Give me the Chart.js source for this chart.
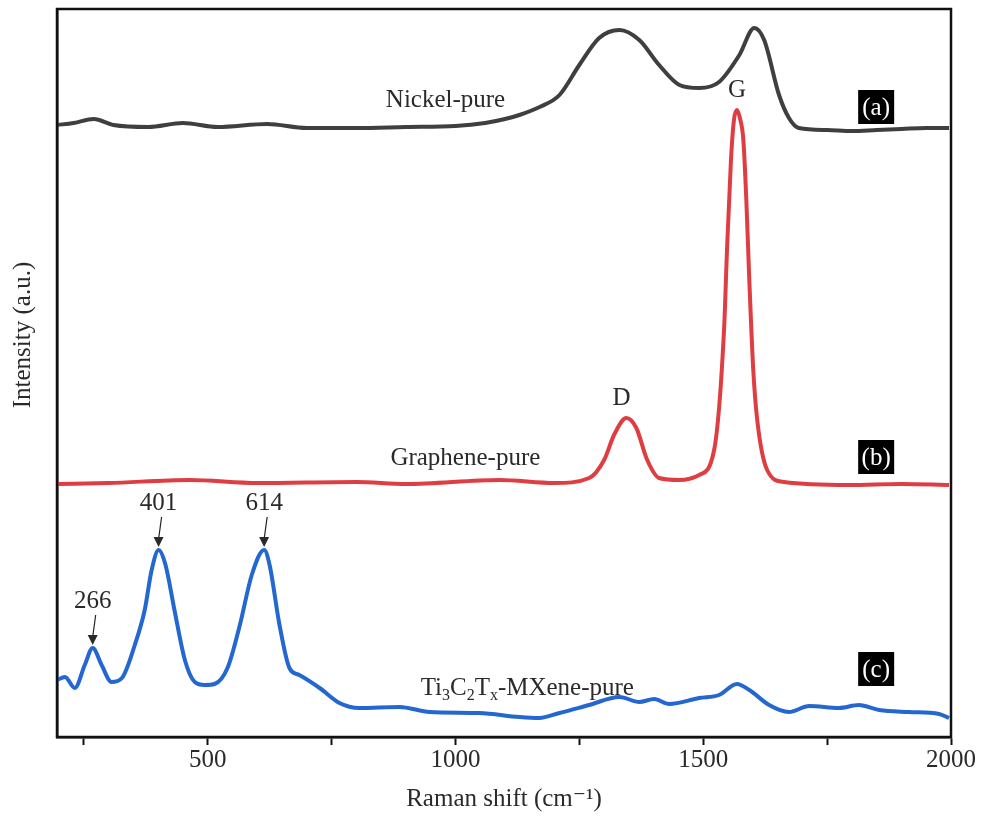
<!DOCTYPE html>
<html>
<head>
<meta charset="utf-8">
<script src="https://cdn.jsdelivr.net/npm/chart.js@4/dist/chart.umd.min.js"></script>
<style>
  html, body { margin: 0; padding: 0; background: #fff; }
  #wrap { width: 984px; height: 830px; }
</style>
</head>
<body>
<div id="wrap"><canvas id="ramanChart"></canvas></div>
<script>
// Raman shift (cm-1) and stacked intensities (a.u.)
const nickelShift = [196, 230, 270, 310, 380, 450, 520, 620, 700, 800, 900, 1000, 1060, 1100, 1129, 1170, 1210, 1250, 1290, 1331, 1371, 1411, 1452, 1492, 1532, 1573, 1603, 1623, 1653, 1673, 1693, 1750, 1800, 1850, 1900, 1950, 1996];
const nickelIntensity = [612, 614, 618, 612, 610, 614, 610, 613, 609, 609, 610, 611, 614, 618, 622, 630, 642, 672, 699, 707, 697, 672, 652, 649, 655, 682, 709, 697, 642, 619, 609, 607, 606, 607, 608, 609, 609];

const grapheneShift = [196, 300, 464, 600, 800, 900, 1089, 1200, 1270, 1300, 1320, 1345, 1365, 1387, 1411, 1452, 1492, 1522, 1542, 1548, 1556, 1562, 1568, 1574, 1581, 1587, 1593, 1601, 1609, 1629, 1663, 1794, 1900, 1996];
const grapheneIntensity = [253, 254, 257, 254, 255, 253, 257, 254, 259, 277, 302, 319, 309, 277, 259, 257, 262, 287, 407, 487, 577, 617, 627, 619, 597, 537, 457, 367, 317, 267, 255, 252, 253, 252];

const mxeneShift = [196, 212, 232, 252, 268, 286, 306, 327, 353, 373, 387, 401, 415, 433, 454, 474, 494, 514, 540, 565, 589, 614, 625, 645, 665, 685, 726, 766, 806, 887, 948, 1048, 1129, 1169, 1210, 1270, 1331, 1371, 1401, 1431, 1492, 1532, 1568, 1593, 1633, 1673, 1714, 1774, 1814, 1855, 1915, 1976, 1996];
const mxeneIntensity = [57, 60, 49, 72, 89, 72, 55, 59, 92, 127, 167, 187, 172, 127, 77, 55, 52, 53, 69, 112, 162, 187, 172, 112, 69, 62, 49, 34, 29, 30, 25, 24, 20, 19, 24, 32, 40, 35, 38, 33, 39, 42, 53, 47, 32, 25, 31, 29, 32, 27, 25, 23, 19];

const xTicks = [250, 500, 750, 1000, 1250, 1500, 1750, 2000];

// peak markers: [shift, intensity, label]
const mxenePeaks = [[268, 89, "266"], [401, 187, "401"], [614, 187, "614"]];
const graphenePeaks = [[1345, 319, "D"], [1568, 627, "G"]];

const toPoints = (xs, ys) => xs.map((x, i) => ({ x: x, y: ys[i] }));

const serif = "'Liberation Serif', 'DejaVu Serif', serif";
const big = "25px " + serif;
const small = "16px " + serif;

const annotations = {
  id: "annotations",
  afterDatasetsDraw(chart) {
    const c = chart.ctx;
    const xs = chart.scales.x, ys = chart.scales.y;
    const area = chart.chartArea;
    c.save();
    c.fillStyle = "#2a2a2a";
    c.textAlign = "center";
    c.textBaseline = "middle";
    c.font = big;

    // sample names
    c.fillText("Nickel-pure", xs.getPixelForValue(980), ys.getPixelForValue(637));
    c.fillText("Graphene-pure", xs.getPixelForValue(1020), ys.getPixelForValue(279));

    // Ti3C2Tx-MXene-pure with subscripts
    const px = xs.getPixelForValue(1145), py = ys.getPixelForValue(49);
    const parts = [["Ti", 0], ["3", 1], ["C", 0], ["2", 1], ["T", 0], ["x", 1], ["-MXene-pure", 0]];
    let total = 0;
    parts.forEach(p => {
      c.font = p[1] ? small : big;
      total += c.measureText(p[0]).width;
    });
    let cx = px - total / 2;
    c.textAlign = "left";
    parts.forEach(p => {
      c.font = p[1] ? small : big;
      c.fillText(p[0], cx, p[1] ? py + 8 : py);
      cx += c.measureText(p[0]).width;
    });
    c.textAlign = "center";
    c.font = big;

    // D and G
    graphenePeaks.forEach(p => {
      const gx = xs.getPixelForValue(p[0]) + (p[2] === "D" ? -5 : 0);
      c.fillText(p[2], gx, ys.getPixelForValue(p[1]) - 20);
    });

    // MXene peak arrows
    mxenePeaks.forEach(p => {
      const ax = xs.getPixelForValue(p[0]);
      const ay = ys.getPixelForValue(p[1]) - 3;
      c.fillText(p[2], ax, ay - 44);
      c.strokeStyle = "#222";
      c.lineWidth = 1.2;
      c.beginPath();
      c.moveTo(ax + 3, ay - 30);
      c.lineTo(ax, ay - 8);
      c.stroke();
      c.beginPath();
      c.moveTo(ax - 5, ay - 10);
      c.lineTo(ax + 5, ay - 10);
      c.lineTo(ax, ay);
      c.closePath();
      c.fill();
    });

    // panel tags (a) (b) (c)
    const tags = [["(a)", 630], ["(b)", 280], ["(c)", 68]];
    tags.forEach(t => {
      const tx = xs.getPixelForValue(1849), ty = ys.getPixelForValue(t[1]);
      c.fillStyle = "#000";
      c.fillRect(tx - 18, ty - 17, 36, 34);
      c.fillStyle = "#fff";
      c.font = big;
      c.fillText(t[0], tx, ty + 1);
      c.fillStyle = "#2a2a2a";
    });

    // frame
    c.strokeStyle = "#111";
    c.lineWidth = 2.5;
    c.strokeRect(area.left, area.top, area.right - area.left, area.bottom - area.top);

    // y axis title
    c.translate(23, 335);
    c.rotate(-Math.PI / 2);
    c.font = big;
    c.fillText("Intensity (a.u.)", 0, 0);
    c.restore();
  }
};

new Chart(document.getElementById("ramanChart"), {
  type: "line",
  data: {
    datasets: [
      {
        label: "Nickel-pure",
        data: toPoints(nickelShift, nickelIntensity),
        borderColor: "#3f3f3f",
        borderWidth: 4,
        pointRadius: 0,
        cubicInterpolationMode: "monotone",
      },
      {
        label: "Graphene-pure",
        data: toPoints(grapheneShift, grapheneIntensity),
        borderColor: "#de3d42",
        borderWidth: 4,
        pointRadius: 0,
        cubicInterpolationMode: "monotone",
      },
      {
        label: "Ti3C2Tx-MXene-pure",
        data: toPoints(mxeneShift, mxeneIntensity),
        borderColor: "#2467d0",
        borderWidth: 4,
        pointRadius: 0,
        cubicInterpolationMode: "monotone",
      },
    ],
  },
  options: {
    responsive: true,
    maintainAspectRatio: false,
    animation: false,
    layout: { padding: { left: 49, right: 33, top: 9, bottom: 16 } },
    plugins: { legend: { display: false }, tooltip: { enabled: false } },
    scales: {
      x: {
        type: "linear",
        min: 196,
        max: 2000,
        afterBuildTicks: axis => { axis.ticks = xTicks.map(v => ({ value: v })); },
        grid: { drawOnChartArea: false, tickLength: 8, tickWidth: 2, color: "#111" },
        border: { color: "#111", width: 2.5 },
        ticks: {
          color: "#2a2a2a",
          font: { family: serif, size: 25 },
          padding: 0,
          maxRotation: 0,
          autoSkip: false,
          callback: v => (v % 500 === 0 ? v : ""),
        },
        title: {
          display: true,
          text: "Raman shift (cm\u207B\u00B9)",
          color: "#2a2a2a",
          font: { family: serif, size: 25 },
          padding: { top: 9, bottom: 0 },
        },
      },
      y: {
        min: 0,
        max: 728,
        grid: { display: false },
        border: { color: "#111", width: 2.5 },
        ticks: { display: false },
        title: { display: false },
      },
    },
  },
  plugins: [annotations],
});
</script>
</body>
</html>
